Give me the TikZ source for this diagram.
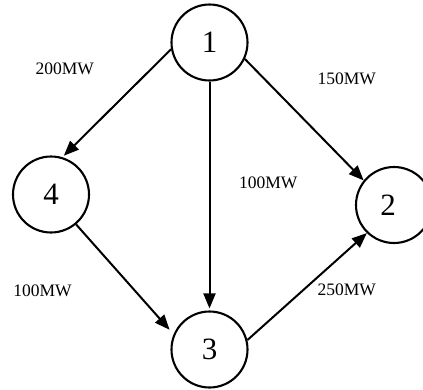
\documentclass[tikz,border=0pt]{standalone}
\usepackage{fontspec}
\setmainfont{Liberation Serif}
\usetikzlibrary{arrows.meta}
\begin{document}
\begin{tikzpicture}[x=1pt,y=-1pt,
  bus/.style={circle,draw,line width=2.1pt,minimum size=76pt,inner sep=0pt,font=\fontsize{31}{31}\selectfont},
  busnum/.style={inner sep=0pt,font=\fontsize{31}{31}\selectfont},
  flow/.style={line width=2pt,-{Triangle[length=15pt,width=12pt]}},
  mw/.style={font=\fontsize{17.5}{18}\selectfont,inner sep=0pt}]
\useasboundingbox (0,0) rectangle (423,389);

% buses
\node[bus] (n1) at (209.5,42.5) {1};
\node[bus] (n4) at (51,194.5) {4};
\node[bus] (n3) at (209.5,349.5) {3};
\node[bus] (n2) at (394,205) {};
\node[busnum] (n2t) at (388,205) {2};

% power flows
\draw[flow,shorten >=2pt] (n1.190) -- (n4.73);
\draw[flow,shorten >=2pt] (n1.south) -- (n3.north);
\draw[flow] (n1.-25) -- (n2.141);
\draw[flow,shorten >=6pt] (n4.-50) -- (n3.157);
\draw[flow] (n3.14) -- (n2.226);

% flow labels
\node[mw] (l14) at (64.7,69) {200MW};
\node[mw] (l12) at (346.7,79) {150MW};
\node[mw] (l13) at (268.3,182.5) {100MW};
\node[mw] (l43) at (42.5,291) {100MW};
\node[mw] (l32) at (346.7,290) {250MW};
\end{tikzpicture}
\end{document}
